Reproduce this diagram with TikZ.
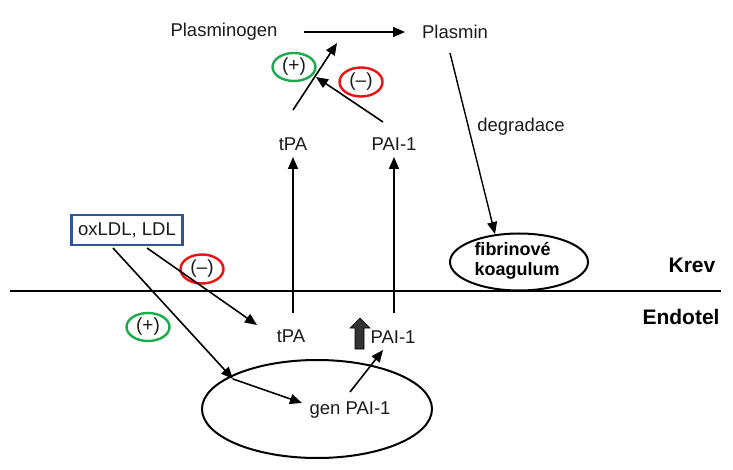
\documentclass[tikz,border=0pt]{standalone}
\usepackage{fontspec}
\setmainfont{Liberation Sans}
\usetikzlibrary{arrows.meta,shapes.geometric}
\definecolor{grn}{HTML}{1AAB4B}
\definecolor{rd}{HTML}{EE1111}
\definecolor{bx}{HTML}{2F5597}
\definecolor{txt}{HTML}{1A1A1A}
\tikzset{
  lbl/.style={text=txt, inner sep=0pt, font=\fontsize{18.5}{21}\selectfont},
  bold/.style={text=black, inner sep=0pt, font=\fontsize{21}{24}\selectfont\bfseries},
  arr/.style={line width=1.6pt, -{Triangle[length=12pt,width=10pt]}},
  plus/.style={ellipse, draw=grn, line width=2.4pt, minimum width=43pt, minimum height=28pt, inner sep=0pt, text=txt, font=\fontsize{19}{21}\selectfont},
  minus/.style={ellipse, draw=rd, line width=2.4pt, minimum width=43pt, minimum height=29pt, inner sep=0pt, text=txt, font=\fontsize{19}{21}\selectfont},
  ldlbox/.style={draw=bx, line width=2.4pt, minimum width=111pt, minimum height=30pt, inner sep=0pt, text=txt, font=\fontsize{18.5}{21}\selectfont},
  oval/.style={ellipse, draw, line width=2pt, inner sep=0pt}
}
\begin{document}
\begin{tikzpicture}[x=1pt,y=-1pt]
\useasboundingbox (0,0) rectangle (733,470);
% top row
\node[lbl] (plg) at (224,32) {Plasminogen};
\node[lbl] (pl) at (455,32) {Plasmin};
\node[lbl] (tpaT) at (293,144) {tPA};
\node[lbl] (paiT) at (394,144) {PAI-1};
\node[lbl] (deg) at (521,127) {degradace};
\node[plus] (p1) at (294,67) {(+)};
\node[minus] (m1) at (361,82) {(\textendash)};
% blood layer
\node[oval, minimum width=138pt, minimum height=57pt] (koag) at (519,262) {};
\node[text=black, inner sep=0pt, align=left, font=\fontsize{18}{20}\selectfont\bfseries] (koagt) at (517,261) {fibrinové\\koagulum};
\node[bold] (krev) at (692,265) {Krev};
\node[bold] (endo) at (681,317) {Endotel};
\coordinate (lineL) at (10,291);
\coordinate (lineR) at (721,291);
\draw[line width=2pt] (lineL) -- (lineR);
% endothelium
\node[ldlbox] (ldl) at (127,230) {oxLDL, LDL};
\node[minus] (m2) at (202,269) {(\textendash)};
\node[plus] (p2) at (148,327) {(+)};
\node[lbl] (tpaB) at (291,336) {tPA};
\node[lbl] (paiB) at (393,337) {PAI-1};
\node[oval, minimum width=230pt, minimum height=98pt] (cell) at (317,409) {};
\node[lbl] (gen) at (350,410) {gen PAI-1};
% coordinates for connectors
\coordinate (a1s) at (304,32);
\coordinate (a1e) at (405,32);
\coordinate (a2s) at (293,110);
\coordinate (a2e) at (337,43);
\coordinate (a3s) at (383,122);
\coordinate (a3e) at (316,77);
\coordinate (a4s) at (450,53);
\coordinate (a4e) at (495,234);
\coordinate (a5s) at (293,313);
\coordinate (a5e) at (293,157);
\coordinate (a6s) at (394,313);
\coordinate (a6e) at (394,157);
\coordinate (a7s) at (147,248);
\coordinate (a7e) at (257,325);
\coordinate (a8s) at (113,248);
\coordinate (a8m) at (233,379);
\coordinate (a8e) at (302,403);
\coordinate (a9s) at (350,392);
\coordinate (a9e) at (383,350);
\draw[arr] (a1s) -- (a1e);
\draw[arr] (a2s) -- (a2e);
\draw[arr] (a3s) -- (a3e);
\draw[line width=1.4pt, -{Triangle[length=12pt,width=10pt]}] (a4s) -- (a4e);
\draw[arr] (a5s) -- (a5e);
\draw[arr] (a6s) -- (a6e);
\draw[arr] (a7s) -- (a7e);
\draw[arr] (a8s) -- (a8m);
\draw[arr] (a8m) -- (a8e);
\draw[arr] (a9s) -- (a9e);
% thick up arrow
\fill[black!80, draw=black, line width=0.6pt] (355,349) -- (355,328) -- (350,328) -- (360,318) -- (370,328) -- (364,328) -- (364,349) -- cycle;
\end{tikzpicture}
\end{document}
